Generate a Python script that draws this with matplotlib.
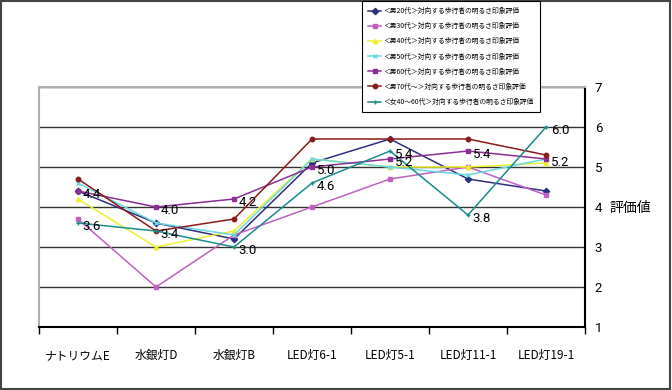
import matplotlib

matplotlib.use("Agg")
import matplotlib.pyplot as plt  # noqa: E402
from matplotlib.patches import Rectangle  # noqa: E402

plt.rcParams["font.family"] = ["Noto Sans CJK JP", "DejaVu Sans"]

categories = ["ナトリウムE", "水銀灯D", "水銀灯B", "LED灯6-1", "LED灯5-1", "LED灯11-1", "LED灯19-1"]

series_names = [
    "＜男20代＞対向する歩行者の明るさ印象評価",
    "＜男30代＞対向する歩行者の明るさ印象評価",
    "＜男40代＞対向する歩行者の明るさ印象評価",
    "＜男50代＞対向する歩行者の明るさ印象評価",
    "＜男60代＞対向する歩行者の明るさ印象評価",
    "＜男70代～＞対向する歩行者の明るさ印象評価",
    "＜女40～60代＞対向する歩行者の明るさ印象評価",
]

male_20s = [4.4, 3.6, 3.2, 5.1, 5.7, 4.7, 4.4]
male_30s = [3.7, 2.0, 3.3, 4.0, 4.7, 5.0, 4.3]
male_40s = [4.2, 3.0, 3.4, 5.2, 5.0, 5.0, 5.1]
male_50s = [4.6, 3.6, 3.3, 5.2, 5.0, 4.8, 5.2]
male_60s = [4.4, 4.0, 4.2, 5.0, 5.2, 5.4, 5.2]
male_70s = [4.7, 3.4, 3.7, 5.7, 5.7, 5.7, 5.3]
female_40_60 = [3.6, 3.4, 3.0, 4.6, 5.4, 3.8, 6.0]

all_series = [male_20s, male_30s, male_40s, male_50s, male_60s, male_70s, female_40_60]
colors = ["#2e2e80", "#c060c0", "#eeee30", "#66d9e0", "#8b2e95", "#8b1a1a", "#1a8c8c"]
markers = ["D", "s", "^", "x", "s", "o", "+"]
labelled = [4, 6]

fig = plt.figure(figsize=(6.72, 3.90), dpi=100)
ax = fig.add_axes([39 / 672, 1 - 327 / 390, (585 - 39) / 672, (327 - 87) / 390])

x = list(range(len(categories)))
for vals, name, col, mk in zip(all_series, series_names, colors, markers):
    ax.plot(x, vals, color=col, marker=mk, markersize=3.2, lw=1.1,
            markeredgewidth=1.0, label=name, zorder=3)

num_font = ["Roboto", "DejaVu Sans"]
for idx in labelled:
    for xi, v in zip(x, all_series[idx]):
        ax.annotate(f"{v:.1f}", (xi, v), xytext=(3.5, -2.2), textcoords="offset points",
                    ha="left", va="center", fontsize=9.5, family=num_font, zorder=4)

ax.set_xlim(-0.5, len(categories) - 0.5)
ax.set_ylim(1, 7)
ax.set_yticks(range(1, 8))
ax.yaxis.tick_right()
ax.tick_params(axis="y", length=0, pad=7, labelsize=9.5)
for lab in ax.get_yticklabels():
    lab.set_family(num_font)
ax.grid(axis="y", color="#333333", lw=1.0, zorder=1)

ax.set_xticks(x)
ax.set_xticklabels(categories, fontsize=8.5)
ax.set_xticks([i - 0.5 for i in range(len(categories) + 1)], minor=True)
ax.tick_params(axis="x", which="major", length=0, pad=16)
ax.tick_params(axis="x", which="minor", length=5, width=1.0, direction="out")

ax.spines["bottom"].set_color("black")
ax.spines["right"].set_color("black")
ax.spines["left"].set_color("#b0b0b0")
ax.spines["top"].set_color("#b0b0b0")
for s in ax.spines.values():
    s.set_linewidth(1.5)

fig.text(610 / 672, 1 - 208 / 390, "評価値", fontsize=10, va="center", ha="left")

leg = fig.legend(loc="upper left", bbox_to_anchor=(362 / 672, 1 - 1 / 390),
                 fontsize=4.9, handlelength=1.9, handletextpad=0.4, borderpad=0.9,
                 labelspacing=1.05, fancybox=False, framealpha=1, borderaxespad=0)
leg.get_frame().set_edgecolor("black")
leg.get_frame().set_linewidth(0.8)

fig.patches.append(Rectangle((0.002, 0.003), 0.995, 0.994, transform=fig.transFigure,
                             fill=False, edgecolor="#444444", lw=1.5))

fig.savefig("out.png", dpi=100)
